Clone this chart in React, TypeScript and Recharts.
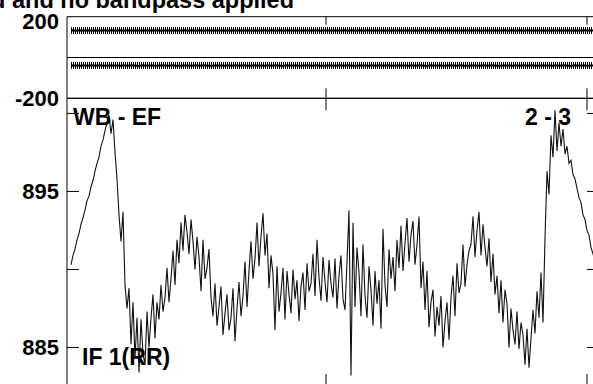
import { LineChart, Line, XAxis, YAxis, ReferenceLine } from "recharts";

// channel numbers start here, one value per channel
const FIRST_CH = 2;

// amplitude (IF 1, RR) per channel
const AMP = [
  890.3, 890.9, 891.3, 891.9, 892.3, 892.9, 893.3, 893.8, 894.4, 894.7,
  895.3, 895.7, 896.3, 896.8, 897.2, 897.9, 898.3, 898.9,
  899.4, 899.9, 898.7, 899.6, 897.5, 895.8,
  893.5, 891.8, 893.7, 889.0, 887.5, 888.8, 885.2, 887.9, 884.3, 886.9,
  883.4, 886.8, 884.6, 883.9, 887.3, 885.0, 886.9, 888.4, 885.6, 887.9,
  886.8, 889.0, 887.3, 888.2, 890.1, 887.9, 889.4, 891.2, 889.0, 891.9,
  890.4, 893.0, 891.2, 893.5, 892.4, 891.0, 893.2, 891.8, 890.0, 892.1,
  890.8, 888.6, 891.9, 889.4, 890.1, 891.3, 888.2, 887.0, 889.1, 886.4,
  887.6, 888.9, 885.8, 887.2, 888.4, 886.1, 886.9, 888.8, 885.4, 887.5,
  889.2, 887.0, 888.3, 890.5, 887.6, 889.9, 891.8, 889.4, 890.7, 893.0,
  890.2, 892.1, 893.6, 890.9, 892.3, 888.8, 890.9, 889.7, 886.1, 890.2,
  887.3, 888.5, 890.1, 886.8, 889.9, 888.4, 887.2, 890.0, 888.1, 889.3,
  886.7, 888.9, 889.8, 887.4, 890.4, 888.6, 889.1, 891.0, 888.3, 891.9,
  889.5, 888.0, 890.8, 889.2, 887.9, 890.6,
  889.1, 888.2, 890.7, 887.5, 889.6, 890.9, 888.1, 887.4, 890.5, 893.8,
  883.2, 893.0, 887.6, 891.4, 889.8, 887.0, 891.6, 888.3, 886.9, 890.2,
  888.7, 886.4, 889.9, 887.8, 889.3, 886.2, 892.6, 889.0, 887.6, 891.3,
  889.4, 890.8, 888.6, 891.9, 890.1, 892.8, 889.9, 891.7, 893.3, 890.5,
  892.2, 893.1, 890.3, 891.6, 893.4, 888.8, 890.5, 887.4, 889.9, 886.3,
  887.9, 888.7, 885.7, 887.6, 886.4, 888.3, 885.0, 886.7, 887.9, 885.5,
  888.2, 889.6, 887.0, 890.4, 888.5, 889.1, 891.6, 888.9, 890.3, 891.2,
  891.6, 893.4, 890.8, 892.5, 893.7, 890.9, 892.9, 891.4, 890.2, 892.0,
  889.2, 891.0, 888.4, 889.6, 887.2, 889.3, 886.6, 888.7, 887.8, 885.0,
  887.5, 886.1, 885.2, 887.3, 884.9, 886.6, 885.8, 883.9, 886.2, 883.7,
  885.6, 887.4, 885.9, 888.6, 886.9, 889.8, 886.6, 892.0, 896.3, 894.8,
  898.6, 897.2, 900.2, 897.6, 899.4, 897.9, 899.0, 897.4, 897.9, 896.8,
  897.0, 896.1, 895.8, 895.2, 894.6, 894.3, 893.5, 893.2, 892.5, 892.2,
  891.4, 891.0, 890.5, 890.0,
];

// phase, upper band
const PHASE_A = [
  132, 133, 131, 132, 134, 132, 131, 133, 132, 132, 133, 131,
  132, 131, 133, 132, 132, 134, 131, 132, 133, 132, 131, 132,
  133, 132, 132, 131, 133, 132, 134, 132, 131, 132, 133, 132,
  131, 133, 132, 132, 131, 133, 132, 134, 132, 131, 132, 133,
  132, 132, 131, 133, 132, 131, 133, 132, 132, 134, 132, 131,
  133, 132, 131, 132, 133, 132, 132, 131, 134, 132, 133, 132,
  131, 132, 133, 132, 132, 131, 133, 132, 131, 133, 132, 132,
  134, 132, 131, 133, 132, 132, 133, 131, 132, 131, 133, 132,
  132, 134, 131, 132, 133, 132, 131, 132, 133, 132, 132, 131,
  133, 132, 134, 132, 131, 132, 133, 132, 131, 133, 132, 132,
  131, 133, 132, 134, 132, 131, 132, 133, 132, 132, 131, 133,
  132, 131, 133, 132, 132, 134, 132, 131, 133, 132, 131, 132,
  133, 132, 132, 131, 134, 132, 133, 132, 131, 132, 133, 132,
  132, 131, 133, 132, 131, 133, 132, 132, 134, 132, 131, 133,
  132, 132, 133, 131, 132, 131, 133, 132, 132, 134, 131, 132,
  133, 132, 131, 132, 133, 132, 132, 131, 133, 132, 134, 132,
  131, 132, 133, 132, 131, 133, 132, 132, 131, 133, 132, 134,
  132, 131, 132, 133, 132, 132, 131, 133, 132, 131, 133, 132,
  132, 134, 132, 131, 133, 132, 131, 132, 133, 132, 132, 131,
  134, 132, 133, 132, 131, 132, 133, 132, 132, 131, 133, 132,
  131, 133, 132, 132, 134, 132, 131, 133, 132, 132, 133, 131,
  132, 131, 133, 132, 132, 134, 131, 132, 133, 132, 131, 132,
];

// phase, lower band
const PHASE_B = [
  -39, -38, -40, -39, -39, -41, -38, -39, -40, -39, -38, -39,
  -40, -39, -39, -38, -41, -39, -40, -39, -38, -39, -40, -39,
  -39, -41, -38, -39, -40, -39, -39, -38, -40, -39, -41, -39,
  -38, -39, -40, -39, -39, -38, -40, -41, -39, -39, -38, -40,
  -39, -40, -39, -38, -39, -41, -39, -40, -38, -39, -39, -40,
  -41, -39, -38, -39, -40, -39, -39, -38, -40, -39, -41, -39,
  -39, -38, -40, -39, -39, -41, -38, -39, -40, -39, -38, -39,
  -40, -39, -39, -38, -41, -39, -40, -39, -38, -39, -40, -39,
  -39, -41, -38, -39, -40, -39, -39, -38, -40, -39, -41, -39,
  -38, -39, -40, -39, -39, -38, -40, -41, -39, -39, -38, -40,
  -39, -40, -39, -38, -39, -41, -39, -40, -38, -39, -39, -40,
  -41, -39, -38, -39, -40, -39, -39, -38, -40, -39, -41, -39,
  -39, -38, -40, -39, -39, -41, -38, -39, -40, -39, -38, -39,
  -40, -39, -39, -38, -41, -39, -40, -39, -38, -39, -40, -39,
  -39, -41, -38, -39, -40, -39, -39, -38, -40, -39, -41, -39,
  -38, -39, -40, -39, -39, -38, -40, -41, -39, -39, -38, -40,
  -39, -40, -39, -38, -39, -41, -39, -40, -38, -39, -39, -40,
  -41, -39, -38, -39, -40, -39, -39, -38, -40, -39, -41, -39,
  -39, -38, -40, -39, -39, -41, -38, -39, -40, -39, -38, -39,
  -40, -39, -39, -38, -41, -39, -40, -39, -38, -39, -40, -39,
  -39, -41, -38, -39, -40, -39, -39, -38, -40, -39, -41, -39,
  -38, -39, -40, -39, -39, -38, -40, -41, -39, -39, -38, -40,
];

const X_DOMAIN = [0, 266];
const X_TICKS = [129.5, 260];
const PHASE_DOMAIN = [-200, 200];
const PHASE_TICKS = [-200, 200];
const AMP_DOMAIN = [882.53, 900.97];
const AMP_TICKS = [885, 890, 895, 900];
const AMP_LABELS = [885, 895];
// length of the inward left ticks, in channels (2 px per channel)
const INNER_TICK_CH = 6;

const rows = AMP.map((amp, i) => ({
  ch: FIRST_CH + i,
  amp,
  pa: PHASE_A[i],
  pb: PHASE_B[i],
}));

const FONT = "'Liberation Sans', Arial, Helvetica, sans-serif";
const W = 610;
const INK = "#000";

function TickLabel({ x, y, payload, keep, nudge }: any) {
  if (keep && !keep.includes(payload.value)) return <g />;
  const dy = nudge && nudge[payload.value] ? nudge[payload.value] : 0;
  return (
    <text
      x={x}
      y={y + dy}
      dy="0.36em"
      textAnchor="end"
      fontFamily={FONT}
      fontSize={22}
      fontWeight="bold"
      fill={INK}
    >
      {payload.value}
    </text>
  );
}

// tick lines only, no label
const NoLabel = () => <g />;

// little vertical bar drawn at every phase sample
function HatchDot(p: any) {
  if (p.cx == null || p.cy == null) return <g key={`h-${p.index}`} />;
  return (
    <line
      key={`h-${p.index}`}
      x1={Math.round(p.cx) + 0.5}
      x2={Math.round(p.cx) + 0.5}
      y1={p.cy - 3.5}
      y2={p.cy + 3.5}
      stroke={INK}
      strokeWidth={1}
      shapeRendering="crispEdges"
    />
  );
}

export default function App() {
  return (
    <div
      style={{
        position: "fixed",
        top: 0,
        left: 0,
        width: 593,
        height: 384,
        overflow: "hidden",
        background: "#fff",
      }}
    >
      {/* amplitude panel */}
      <div style={{ position: "absolute", top: 0, left: 0 }}>
        <LineChart width={W} height={400} data={rows} margin={{ top: 98.3, right: 11, bottom: 14, left: 7 }}>
          <XAxis xAxisId="b" orientation="bottom" type="number" dataKey="ch" domain={X_DOMAIN} ticks={X_TICKS}
            mirror tick={NoLabel} tickSize={12} allowDataOverflow
            axisLine={{ stroke: INK }} tickLine={{ stroke: INK }} />
          <XAxis xAxisId="t" orientation="top" type="number" dataKey="ch" domain={X_DOMAIN} ticks={X_TICKS}
            mirror tick={NoLabel} tickSize={12} allowDataOverflow
            axisLine={{ stroke: INK }} tickLine={{ stroke: INK }} />
          <YAxis yAxisId="l" width={60} type="number" domain={AMP_DOMAIN} ticks={AMP_TICKS} interval={0}
            allowDataOverflow tickLine={false} axisLine={{ stroke: INK }}
            tick={<TickLabel keep={AMP_LABELS} />} />
          <YAxis yAxisId="r" orientation="right" type="number" domain={AMP_DOMAIN} ticks={AMP_TICKS}
            interval={0} allowDataOverflow mirror tick={NoLabel} tickSize={12}
            axisLine={{ stroke: INK }} tickLine={{ stroke: INK }} />
          {AMP_TICKS.map((v) => (
            <ReferenceLine
              key={`in-${v}`}
              xAxisId="b"
              yAxisId="l"
              segment={[{ x: X_DOMAIN[0], y: v }, { x: X_DOMAIN[0] + INNER_TICK_CH, y: v }]}
              stroke={INK}
              strokeWidth={1}
            />
          ))}
          <Line xAxisId="t" yAxisId="r" dataKey="amp" stroke="none" dot={false} activeDot={false} isAnimationActive={false} />
          <Line xAxisId="b" yAxisId="l" dataKey="amp" type="linear" stroke="#111" strokeWidth={1.1}
            dot={false} activeDot={false} isAnimationActive={false} />
        </LineChart>
      </div>

      {/* phase panel */}
      <div style={{ position: "absolute", top: 0, left: 0 }}>
        <LineChart width={W} height={130} data={rows} margin={{ top: 16.7, right: 11, bottom: 31.7, left: 7 }}>
          <XAxis xAxisId="b" orientation="bottom" type="number" dataKey="ch" domain={X_DOMAIN} ticks={X_TICKS}
            mirror tick={NoLabel} tickSize={10} allowDataOverflow
            axisLine={{ stroke: INK }} tickLine={{ stroke: INK }} />
          <XAxis xAxisId="t" orientation="top" type="number" dataKey="ch" domain={X_DOMAIN} ticks={X_TICKS}
            mirror tick={NoLabel} tickSize={8} allowDataOverflow
            axisLine={{ stroke: INK }} tickLine={{ stroke: INK }} />
          <YAxis yAxisId="l" width={60} type="number" domain={PHASE_DOMAIN} ticks={PHASE_TICKS} interval={0}
            allowDataOverflow tickLine={false} axisLine={{ stroke: INK }}
            tick={<TickLabel nudge={{ 200: 4 }} />} />
          <ReferenceLine xAxisId="b" yAxisId="l" y={0} stroke={INK} strokeWidth={1} />
          <Line xAxisId="t" yAxisId="l" dataKey="pa" stroke="none" dot={false} activeDot={false} isAnimationActive={false} />
          <Line xAxisId="b" yAxisId="l" dataKey="pa" stroke={INK} strokeWidth={2}
            dot={HatchDot} activeDot={false} isAnimationActive={false} />
          <Line xAxisId="b" yAxisId="l" dataKey="pb" stroke={INK} strokeWidth={2}
            dot={HatchDot} activeDot={false} isAnimationActive={false} />
        </LineChart>
      </div>

      {/* title and panel labels */}
      <svg width={593} height={384} style={{ position: "absolute", top: 0, left: 0, pointerEvents: "none" }}>
        <g fontFamily={FONT} fontWeight="bold" fill={INK}>
          <text x={294} y={8} fontSize={23.5} textAnchor="end">applied and no bandpass applied</text>
          <text x={73} y={125} fontSize={23}>WB - EF</text>
          <text x={525} y={125} fontSize={23}>2 - 3</text>
          <text x={82} y={365} fontSize={23}>IF 1(RR)</text>
        </g>
      </svg>
    </div>
  );
}
